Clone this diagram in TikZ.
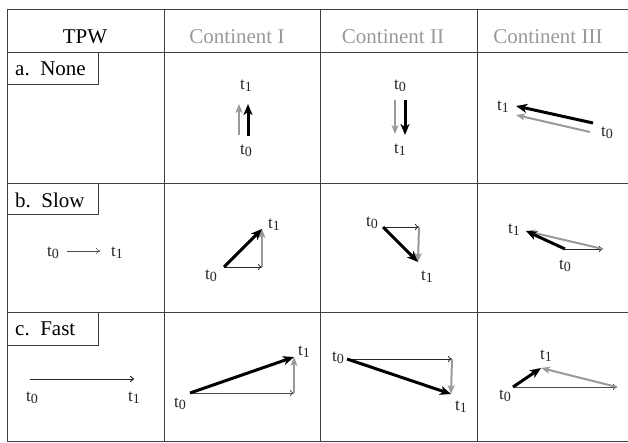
\documentclass[tikz,border=0pt]{standalone}
\usepackage{fontspec}
\setmainfont{Liberation Serif}
\usetikzlibrary{arrows.meta}
\newcommand\tlab[1]{t\raisebox{-0.3ex}{\fontsize{14}{14}\selectfont #1}}
\tikzset{
  grid/.style={draw=black!75, line width=0.9pt},
  hdr/.style={font=\fontsize{21}{24}\selectfont, inner sep=0pt},
  chdr/.style={hdr, text=black!40},
  lbox/.style={draw=black!75, line width=0.9pt},
  lbl/.style={font=\fontsize{21}{24}\selectfont, anchor=west, inner sep=0pt},
  tl/.style={font=\fontsize{17}{20}\selectfont, inner sep=0pt, text=black!85},
  net/.style={line width=3pt, -{Stealth[length=11pt,width=9pt,inset=3pt]}},
  cont/.style={line width=2pt, black!40, -{Stealth[length=9pt,width=7pt,inset=2.5pt]}},
  tpw/.style={line width=0.8pt, black!85, -{To[length=4pt,width=6pt]}},
}
\begin{document}
\begin{tikzpicture}[x=1pt,y=-1pt]
\useasboundingbox (0,0) rectangle (628,443);
% table
\draw[grid] (628,9) -- (7,9) -- (7,441) -- (628,441);
\draw[grid] (7,52) -- (628,52);
\draw[grid] (7,183) -- (628,183);
\draw[grid] (7,312) -- (628,312);
\draw[grid] (164,9) -- (164,441);
\draw[grid] (320,9) -- (320,441);
\draw[grid] (477,9) -- (477,441);
% headers
\node[hdr] (hT) at (85,37) {TPW};
\node[chdr] (h1) at (237,37) {Continent I};
\node[chdr] (h2) at (393,37) {Continent II};
\node[chdr] (h3) at (548,37) {Continent III};
% label boxes
\draw[lbox] (7,52) rectangle (98,84);
\node[lbl] (la) at (15,69) {a.\ \ None};
\draw[lbox] (7,183) rectangle (98,214);
\node[lbl] (lb) at (15,200) {b.\ \ Slow};
\draw[lbox] (7,312) rectangle (98,345);
\node[lbl] (lc) at (15,329) {c.\ \ Fast};

% ---- row a ----
\coordinate (a1g0) at (239,135); \coordinate (a1g1) at (239,104);
\coordinate (a1b0) at (248,136); \coordinate (a1b1) at (248,104);
\draw[cont] (a1g0) -- (a1g1);
\draw[net] (a1b0) -- (a1b1);
\node[tl] (a1t1) at (246,86) {\tlab{1}};
\node[tl] (a1t0) at (246,151) {\tlab{0}};
\coordinate (a2g0) at (395,100); \coordinate (a2g1) at (395,134);
\coordinate (a2b0) at (405,100); \coordinate (a2b1) at (405,135);
\draw[cont] (a2g0) -- (a2g1);
\draw[net] (a2b0) -- (a2b1);
\node[tl] (a2t0) at (400,86) {\tlab{0}};
\node[tl] (a2t1) at (400,150) {\tlab{1}};
\coordinate (a3b0) at (593,123); \coordinate (a3b1) at (516,106);
\coordinate (a3g0) at (590,132); \coordinate (a3g1) at (516,115);
\draw[cont] (a3g0) -- (a3g1);
\draw[net] (a3b0) -- (a3b1);
\node[tl] (a3t1) at (503,107) {\tlab{1}};
\node[tl] (a3t0) at (607,133) {\tlab{0}};

% ---- row b ----
\node[tl] (bTt0) at (53,253) {\tlab{0}};
\node[tl] (bTt1) at (117,253) {\tlab{1}};
\draw[tpw, line width=0.5pt, black!70] (bTt0.east)++(8,-2) coordinate (bT0) -- ++(33,0) coordinate (bT1);
\coordinate (b1o) at (224,267); \coordinate (b1h) at (262,267); \coordinate (b1e) at (262,229);
\draw[tpw] (b1o) -- (b1h);
\draw[cont] (b1h) -- (b1e);
\draw[net] (b1o) -- (b1e);
\node[tl] (b1t0) at (211,276) {\tlab{0}};
\node[tl] (b1t1) at (274,225) {\tlab{1}};
\coordinate (b2o) at (383,227); \coordinate (b2h) at (419,227); \coordinate (b2e) at (418,262);
\draw[tpw] (b2o) -- (b2h);
\draw[cont] (b2h) -- (b2e);
\draw[net] (b2o) -- (b2e);
\node[tl] (b2t0) at (372,223) {\tlab{0}};
\node[tl] (b2t1) at (427,277) {\tlab{1}};
\coordinate (b3o) at (565,249); \coordinate (b3h) at (603,249); \coordinate (b3e) at (526,231);
\draw[tpw] (b3o) -- (b3h);
\draw[cont] (b3h) -- (b3e);
\draw[net] (b3o) -- (b3e);
\node[tl] (b3t1) at (514,230) {\tlab{1}};
\node[tl] (b3t0) at (565,266) {\tlab{0}};

% ---- row c ----
\coordinate (cT0) at (30,379); \coordinate (cT1) at (134,379);
\draw[tpw, line width=1pt] (cT0) -- (cT1);
\node[tl] (cTt0) at (32,398) {\tlab{0}};
\node[tl] (cTt1) at (134,398) {\tlab{1}};
\coordinate (c1o) at (190,393); \coordinate (c1h) at (294,393); \coordinate (c1e) at (294,357);
\draw[tpw, black!70] (c1o) -- (c1h);
\draw[cont] (c1h) -- (c1e);
\draw[net] (c1o) -- (c1e);
\node[tl] (c1t0) at (180,404) {\tlab{0}};
\node[tl] (c1t1) at (304,352) {\tlab{1}};
\coordinate (c2o) at (347,359); \coordinate (c2h) at (452,359); \coordinate (c2e) at (451,394);
\draw[tpw] (c2o) -- (c2h);
\draw[cont] (c2h) -- (c2e);
\draw[net] (c2o) -- (c2e);
\node[tl] (c2t0) at (338,358) {\tlab{0}};
\node[tl] (c2t1) at (461,407) {\tlab{1}};
\coordinate (c3o) at (513,387); \coordinate (c3h) at (617,387); \coordinate (c3e) at (541,368);
\draw[tpw, black!70] (c3o) -- (c3h);
\draw[cont] (c3h) -- (c3e);
\draw[net] (c3o) -- (c3e);
\node[tl] (c3t0) at (505,396) {\tlab{0}};
\node[tl] (c3t1) at (546,356) {\tlab{1}};
\end{tikzpicture}
\end{document}
